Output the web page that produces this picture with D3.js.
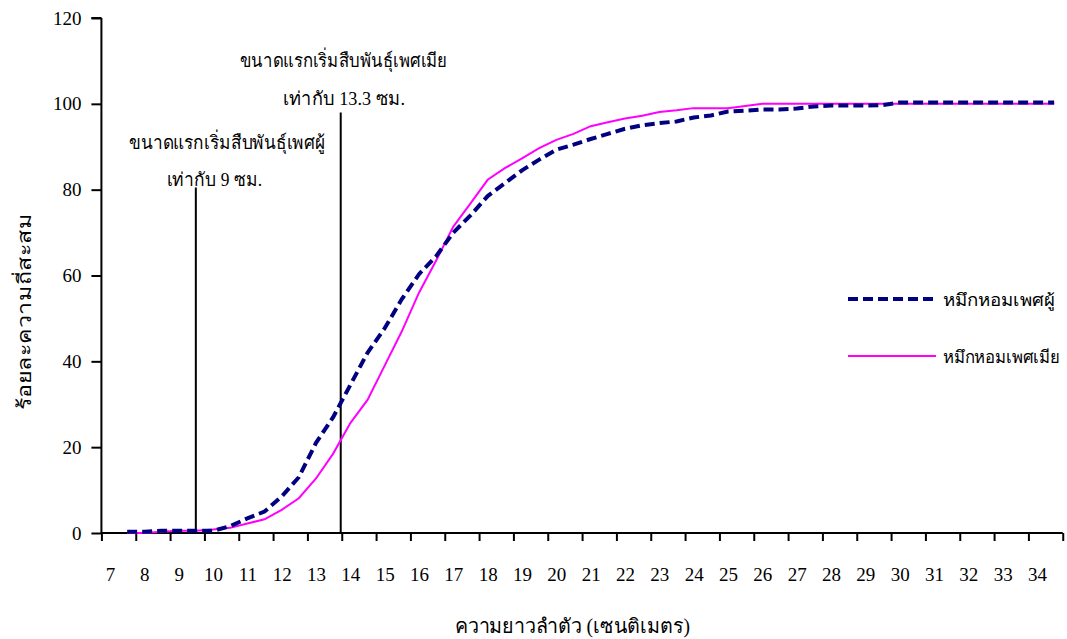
<!DOCTYPE html>
<html>
<head>
<meta charset="utf-8">
<script src="https://cdn.jsdelivr.net/npm/d3@7"></script>
<style>
  body { margin: 0; background: #fff; }
  svg text { fill: #000; }
</style>
</head>
<body>
<script>
// body length in cm, every half cm
const lengths = [7.5, 8, 8.5, 9, 9.5, 10, 10.5, 11, 11.5, 12,
  12.5, 13, 13.5, 14, 14.5, 15, 15.5, 16, 16.5, 17,
  17.5, 18, 18.5, 19, 19.5, 20, 20.5, 21, 21.5, 22,
  22.5, 23, 23.5, 24, 24.5, 25, 25.5, 26, 26.5, 27,
  27.5, 28, 28.5, 29, 29.5, 30, 30.5, 31, 31.5, 32,
  32.5, 33, 33.5, 34, 34.5];

// cumulative frequency (%)
const male = [0.3, 0.3, 0.5, 0.5, 0.5, 0.5, 1.6, 3.4, 5.0, 8.5,
  13, 21, 27, 34.5, 42, 47.7, 54.5, 60.3, 64.5, 70,
  74, 78.5, 81.5, 84.5, 87, 89.3, 90.5, 91.8, 93, 94.2,
  95, 95.5, 95.9, 96.8, 97.3, 98.2, 98.4, 98.7, 98.7, 98.9,
  99.4, 99.6, 99.6, 99.6, 99.7, 100.3, 100.3, 100.3, 100.3, 100.3,
  100.3, 100.3, 100.3, 100.3, 100.3];

const female = [0, 0, 0.3, 0.5, 0.5, 0.8, 1.2, 2.2, 3.2, 5.4,
  8.1, 12.7, 18.5, 25.6, 31, 39, 47, 56, 63.5, 71.4,
  76.8, 82.3, 85, 87.3, 89.7, 91.6, 93, 94.8, 95.7, 96.6,
  97.2, 98.1, 98.5, 99, 99, 99, 99.5, 100, 100, 100,
  100, 100, 100, 100, 100, 100, 100, 100, 100, 100,
  100, 100, 100, 100, 100];

const xLabels = [7, 8, 9, 10, 11, 12, 13, 14, 15, 16, 17, 18, 19, 20,
  21, 22, 23, 24, 25, 26, 27, 28, 29, 30, 31, 32, 33, 34];
const xTickMarks = [6.75, 7.75, 8.75, 9.75, 10.75, 11.75, 12.75, 13.75, 14.75,
  15.75, 16.75, 17.75, 18.75, 19.75, 20.75, 21.75, 22.75, 23.75, 24.75, 25.75,
  26.75, 27.75, 28.75, 29.75, 30.75, 31.75, 32.75, 33.75, 34.75];
const yTicks = [0, 20, 40, 60, 80, 100, 120];

// maturity size markers
const maleMaturity = 9.5;
const femaleMaturity = 13.72;

const width = 1067;
const height = 639;
const serif = '"Liberation Serif", "Times New Roman", serif';

const x = d3.scaleLinear().domain([7, 34]).range([110, 1037]);
const y = d3.scaleLinear().domain([0, 120]).range([533, 18]);

function addText(svg, t, px, py, len, size) {
  return svg
    .append("text")
    .attr("x", px)
    .attr("y", py)
    .attr("font-size", size)
    .style("font-family", serif)
    .attr("textLength", len)
    .attr("lengthAdjust", "spacingAndGlyphs")
    .text(t);
}

function drawChart() {
  const svg = d3
    .select("body")
    .append("svg")
    .attr("width", width)
    .attr("height", height);

  // y axis
  const yAxis = svg
    .append("g")
    .attr("transform", `translate(${x(6.75)},0)`)
    .call(d3.axisLeft(y).tickValues(yTicks).tickSize(10).tickPadding(10));
  yAxis.select(".domain").attr("stroke-width", 2).attr("d", `M0,${y(120)}H-10M0,${y(120)}V${y(0)}`);
  yAxis.selectAll(".tick line").attr("stroke-width", 2);
  yAxis.selectAll(".tick text").attr("font-size", 19).style("font-family", serif);

  // x axis: tick marks
  const xAxis = svg
    .append("g")
    .attr("transform", `translate(0,${y(0)})`)
    .call(d3.axisBottom(x).tickValues(xTickMarks).tickSize(8).tickFormat(""));
  xAxis.select(".domain").attr("stroke-width", 2).attr("d", `M${x(6.75)},0H${x(34.75)}`);
  xAxis.selectAll(".tick line").attr("stroke-width", 2);

  // x axis: labels sit between the marks
  const xLabelAxis = svg
    .append("g")
    .attr("transform", `translate(0,${y(0)})`)
    .call(d3.axisBottom(x).tickValues(xLabels).tickSize(0).tickPadding(35).tickFormat(d3.format("d")));
  xLabelAxis.select(".domain").remove();
  xLabelAxis.selectAll(".tick text").attr("font-size", 19).style("font-family", serif);

  // axis titles
  addText(svg, "ความยาวลำตัว (เซนติเมตร)", 455, 633, 235, 20);

  addText(svg, "ร้อยละความถี่สะสม", 0, 0, 197, 19)
    .attr("transform", "translate(31,410) rotate(-90)");

  // maturity lines
  svg
    .append("line")
    .attr("x1", x(maleMaturity))
    .attr("x2", x(maleMaturity))
    .attr("y1", y(80.5))
    .attr("y2", y(0))
    .attr("stroke", "black")
    .attr("stroke-width", 2);

  svg
    .append("line")
    .attr("x1", x(femaleMaturity))
    .attr("x2", x(femaleMaturity))
    .attr("y1", y(98))
    .attr("y2", y(0))
    .attr("stroke", "black")
    .attr("stroke-width", 2);

  addText(svg, "ขนาดแรกเริ่มสืบพันธุ์เพศผู้", 129, 149, 196, 19);
  addText(svg, "เท่ากับ 9 ซม.", 167, 186, 95, 19);
  addText(svg, "ขนาดแรกเริ่มสืบพันธุ์เพศเมีย", 240, 67, 207, 19);
  addText(svg, "เท่ากับ 13.3 ซม.", 283, 105, 122, 19);

  // series
  const line = d3
    .line()
    .x((d) => x(d[0]))
    .y((d) => y(d[1]));

  svg
    .append("path")
    .datum(lengths.map((v, i) => [v, female[i]]))
    .attr("fill", "none")
    .attr("stroke", "#ff00ff")
    .attr("stroke-width", 2)
    .attr("d", line);

  svg
    .append("path")
    .datum(lengths.map((v, i) => [v, male[i]]))
    .attr("fill", "none")
    .attr("stroke", "#000080")
    .attr("stroke-width", 4)
    .attr("stroke-dasharray", "10,5")
    .attr("d", line);

  // legend
  const legend = svg.append("g");
  legend
    .append("line")
    .attr("x1", 848)
    .attr("x2", 937)
    .attr("y1", 299)
    .attr("y2", 299)
    .attr("stroke", "#000080")
    .attr("stroke-width", 4)
    .attr("stroke-dasharray", "10,5");
  addText(legend, "หมึกหอมเพศผู้", 943, 306, 112, 17);

  legend
    .append("line")
    .attr("x1", 848)
    .attr("x2", 936)
    .attr("y1", 356)
    .attr("y2", 356)
    .attr("stroke", "#ff00ff")
    .attr("stroke-width", 2);
  addText(legend, "หมึกหอมเพศเมีย", 943, 363, 117, 17);
}

drawChart();
</script>
</body>
</html>
